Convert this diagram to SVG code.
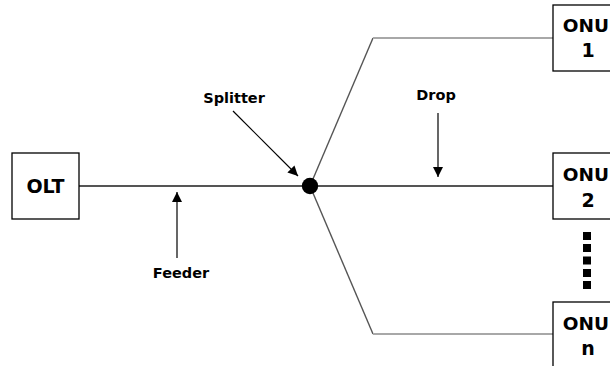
<svg xmlns="http://www.w3.org/2000/svg" width="610" height="366" viewBox="0 0 610 366">
<style>
.box{fill:#fff;stroke:#000;stroke-width:1.3}
.big{font-family:"DejaVu Sans",Verdana,sans-serif;font-weight:bold;font-size:19px;fill:#000;text-anchor:middle}
.onu{font-size:18.5px}
.lbl{font-family:"DejaVu Sans",Verdana,sans-serif;font-weight:bold;font-size:14.5px;fill:#000;text-anchor:middle}
.trunk{stroke:#555;stroke-width:2;fill:none}
.diag{stroke:#555;stroke-width:1.4;fill:none}
.branch{stroke:#a8a8a8;stroke-width:2;fill:none}
.ptr{stroke:#000;stroke-width:1.2;fill:none}
</style>
<defs>
<marker id="ah" viewBox="0 0 10 10" refX="10" refY="5" markerWidth="10" markerHeight="10" markerUnits="userSpaceOnUse" orient="auto">
<path d="M0,0 L10,5 L0,10 Z" fill="#000"/>
</marker>
</defs>
<rect width="610" height="366" fill="#fff"/>
<g id="connectors">
<line class="trunk" x1="79" y1="186" x2="310" y2="186"/>
<line class="trunk" x1="310" y1="186" x2="553" y2="186"/>
<polyline class="diag" points="310,186 373,38"/>
<line class="branch" x1="373" y1="38" x2="553" y2="38"/>
<polyline class="diag" points="310,186 373,334"/>
<line class="branch" x1="373" y1="334" x2="553" y2="334"/>
</g>
<g id="OLT">
<rect class="box" x="12" y="153" width="67" height="66"/>
<text class="big" x="45.5" y="193">OLT</text>
</g>
<g id="Splitter">
<circle cx="310" cy="186" r="8.2" fill="#000"/>
</g>
<g id="ONU1">
<rect class="box" x="553" y="5" width="70" height="66"/>
<text class="big onu" x="585.8" y="32">ONU</text>
<text class="big" x="588" y="57">1</text>
</g>
<g id="ONU2">
<rect class="box" x="553" y="153" width="70" height="66"/>
<text class="big onu" x="585.8" y="181">ONU</text>
<text class="big" x="588" y="207">2</text>
</g>
<g id="ONUn">
<rect class="box" x="553" y="302" width="70" height="70"/>
<text class="big onu" x="585.8" y="330">ONU</text>
<text class="big" x="588" y="355">n</text>
</g>
<g id="ellipsis" fill="#000">
<rect x="583" y="232" width="8" height="8"/>
<rect x="583" y="244" width="8" height="8"/>
<rect x="583" y="256.5" width="8" height="8"/>
<rect x="583" y="269" width="8" height="8"/>
<rect x="583" y="281" width="8" height="8"/>
</g>
<g id="labels">
<line class="ptr" x1="177" y1="258" x2="177" y2="192" marker-end="url(#ah)"/>
<text class="lbl" x="181" y="278">Feeder</text>
<line class="ptr" x1="233" y1="111" x2="298" y2="176" marker-end="url(#ah)" stroke="#333"/>
<text class="lbl" x="234" y="103">Splitter</text>
<line class="ptr" x1="438" y1="113" x2="438" y2="177" marker-end="url(#ah)"/>
<text class="lbl" x="436" y="100">Drop</text>
</g>
</svg>
